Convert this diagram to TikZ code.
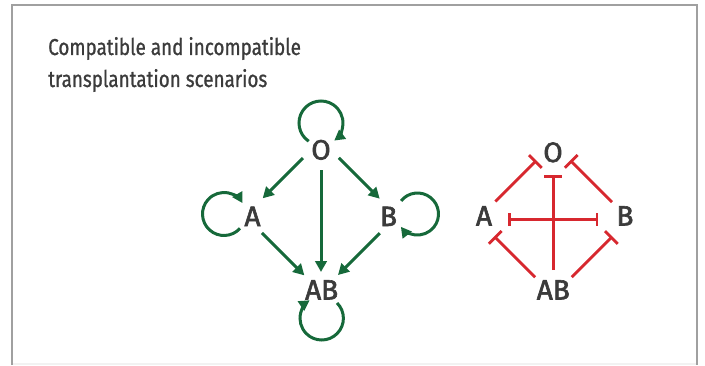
\documentclass[tikz,border=0pt]{standalone}
\usepackage{fontspec}
\setmainfont{Fira Sans}
\newfontfamily\titlefont{Fira Sans}[FakeStretch=0.82,FakeBold=0.9]
\newfontfamily\letterfont{Fira Sans}[FakeBold=2.2]
\usetikzlibrary{arrows.meta}
\definecolor{gr}{HTML}{16693A}
\definecolor{rd}{HTML}{D7282F}
\definecolor{txt}{HTML}{3B3B3B}
\definecolor{frm}{HTML}{A0A0A0}
\begin{document}
\begin{tikzpicture}[x=1pt,y=1pt,
  frame/.style={draw=frm, line width=1.6pt},
  title/.style={inner sep=0pt, anchor=base west, text=txt, font=\titlefont\fontsize{23}{27}\selectfont},
  lbl/.style={inner sep=0pt, anchor=base, text=txt, font=\letterfont\fontsize{28}{30}\selectfont},
  garrow/.style={draw=gr, line width=3pt, -{Triangle[length=11pt,width=11.5pt]}},
  gloop/.style={draw=gr, line width=3pt, -{Triangle[length=10.5pt,width=11pt]}},
  rline/.style={draw=rd, line width=2.8pt},
  rbar/.style={rline, -{Bar[width=18pt]}},
  rbarb/.style={rline, {Bar[width=13pt]}-{Bar[width=13pt]}}]
\useasboundingbox (0,0) rectangle (705,365);
\fill[black!5] (12,0) rectangle (697,2);
\draw[frame] (12,0) -- (12,360) -- (697,360) -- (697,0);
\node[title] (t1) at (48,310) {Compatible and incompatible};
\node[title] (t2) at (48,278) {transplantation scenarios};
% green diagram
\coordinate (gO) at (321,225);
\coordinate (gA) at (245,149);
\coordinate (gB) at (397,149);
\coordinate (gAB) at (321,73);
\node[lbl] (lgO) at (321,205.5) {O};
\node[lbl] (lgA) at (252.5,139) {A};
\node[lbl] (lgB) at (388.5,139) {B};
\node[lbl] (lgAB) at (321.7,65.5) {AB};
\draw[garrow, shorten <=25.5pt, shorten >=25pt] (gO) -- (gA);
\draw[garrow, shorten <=25.2pt, shorten >=24.5pt] (gO) -- (gB);
\draw[garrow, shorten <=30pt, shorten >=20pt] (gO) -- (gAB);
\draw[garrow, shorten <=24pt, shorten >=23.5pt] (gA) -- (gAB);
\draw[garrow, shorten <=24.3pt, shorten >=24pt] (gB) -- (gAB);
\coordinate (cO) at (321,242);
\coordinate (cA) at (224,151);
\coordinate (cB) at (417.5,151);
\coordinate (cAB) at (321.7,46.7);
\draw[gloop] ([shift={(236:22)}]cO) arc[start angle=236, end angle=-53, radius=22];
\draw[gloop] ([shift={(-42:21.5)}]cA) arc[start angle=-42, end angle=-329.6, radius=21.5];
\draw[gloop] ([shift={(141.3:21)}]cB) arc[start angle=141.3, end angle=-142.4, radius=21];
\draw[gloop] ([shift={(45:21.7)}]cAB) arc[start angle=45, end angle=-236.2, radius=21.7];
% red diagram
\coordinate (rO) at (553.3,221.5);
\coordinate (rA) at (477.3,145.5);
\coordinate (rB) at (629.3,145.5);
\coordinate (rAB) at (553.3,69.5);
\node[lbl] (lrO) at (553,203) {O};
\node[lbl] (lrA) at (484,139.5) {A};
\node[lbl] (lrB) at (625,139.5) {B};
\node[lbl] (lrAB) at (553.3,65.5) {AB};
\draw[rbar, shorten <=25.5pt, shorten >=24pt] (rA) -- (rO);
\draw[rbar, shorten <=24.5pt, shorten >=24pt] (rB) -- (rO);
\draw[rbar, shorten <=25.5pt, shorten >=31.5pt] (rAB) -- (rO);
\draw[rbar, shorten <=25.7pt, shorten >=24pt] (rAB) -- (rA);
\draw[rbar, shorten <=26pt, shorten >=24pt] (rAB) -- (rB);
\draw[rbarb, shorten <=31pt, shorten >=31pt] (rA) -- (rB);
\end{tikzpicture}
\end{document}
